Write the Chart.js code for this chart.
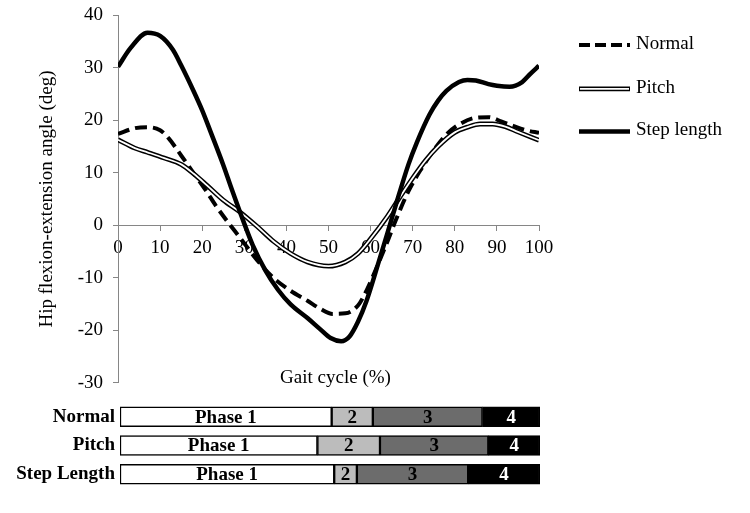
<!DOCTYPE html>
<html><head><meta charset="utf-8">
<script src="https://cdn.jsdelivr.net/npm/chart.js@4"></script>
<style>
html,body{margin:0;padding:0;background:#fff;}
#wrap{position:relative;width:750px;height:513px;background:#fff;overflow:hidden;}
#c1box{position:absolute;left:0;top:-6px;width:750px;height:410px;}
#c2box{position:absolute;left:0;top:386px;width:750px;height:119px;}
</style></head><body>
<div id="wrap"><div id="c1box"><canvas id="c1"></canvas></div><div id="c2box"><canvas id="c2"></canvas></div></div>
<script>
// ---- data ----
const seriesNames = ['Normal', 'Pitch', 'Step length'];

const normalX = [0,4,7,10,12,15,18,21,23,26,29,33,37,41,45,48,51,54,57,59,62,64,66,69,72,75,78,81,85,88,91,94,97,100];
const normalY = [17.4,18.5,18.7,18.1,16.6,13.3,9.9,6.5,4.0,0.7,-2.4,-6.6,-10.1,-12.5,-14.4,-15.9,-16.9,-16.8,-15.3,-12.5,-7.0,-3.1,1.0,6.5,10.7,14.3,17.3,19.2,20.5,20.6,19.8,18.9,18.1,17.6];

const pitchX = [0,4,7,11,15,18,21,25,29,33,37,41,45,50,54,57,60,64,67,70,73,76,80,83,86,89,92,95,100];
const pitchY = [16.3,14.7,13.9,12.8,11.6,9.8,7.7,4.8,2.5,-0.2,-3.1,-5.4,-7.0,-7.8,-7.0,-5.4,-2.6,1.7,5.4,9.0,12.3,15.0,17.7,18.7,19.3,19.3,18.8,17.8,16.2];

const stepX = [0,3,7,10,13,15,18,20,22,25,27,30,32,35,38,41,45,48,50.5,53,55,57,59,62,64,66,69,71,74,76,78,81,83,85,88,90,93,96,98,100];
const stepY = [30.2,33.8,36.7,36.1,33.5,30.5,25.5,21.9,17.8,11.5,6.9,0.3,-3.8,-8.6,-12.3,-15.1,-17.7,-19.8,-21.5,-22.1,-21.2,-18.4,-14.5,-6.8,-1.5,3.9,11.6,15.8,21.1,23.7,25.6,27.3,27.7,27.6,26.9,26.6,26.4,27.3,28.9,30.4];

const yRange = [-30, 40];
const xRange = [0, 100];
const tickStep = 10;
const yTitle = 'Hip flexion-extension angle (deg)';
const xTitle = 'Gait cycle (%)';

const phaseRows = ['Normal', 'Pitch', 'Step Length'];
const phaseLabels = ['Phase 1', '2', '3', '4'];
const phase1 = [50.4, 47.0, 51.0];
const phase2 = [9.8, 14.9, 5.4];
const phase3 = [26.1, 25.8, 26.5];
const phase4 = [13.7, 12.3, 17.1];

// ---- styles ----
const FONT = "'Liberation Serif', 'Times New Roman', serif";
Chart.defaults.font.family = FONT;
Chart.defaults.font.size = 19;
Chart.defaults.color = '#000';
const AXIS = '#868686';

function pts(xs, ys) { return xs.map((x, i) => ({ x: x, y: ys[i] })); }

const lineStyles = [
  { dash: [11, 5], width: 4 },
  { double: true, width: 4.8, inner: 1.8 },
  { dash: [], width: 4.5 }
];

const sideLegend = {
  id: 'sideLegend',
  afterDraw(chart) {
    const ctx = chart.ctx;
    const ca = chart.chartArea;
    const x0 = ca.right + 40, x1 = x0 + 51;
    const ys = [ca.top + 29.5, ca.top + 73.5, ca.top + 116];
    ctx.save();
    seriesNames.forEach((name, i) => {
      const s = lineStyles[i];
      const y = ys[i];
      ctx.lineCap = 'butt';
      ctx.strokeStyle = '#000';
      ctx.lineWidth = s.width;
      ctx.setLineDash(s.dash || []);
      ctx.beginPath(); ctx.moveTo(x0, y); ctx.lineTo(x1, y); ctx.stroke();
      if (s.double) {
        ctx.strokeStyle = '#fff';
        ctx.lineWidth = s.inner;
        ctx.beginPath(); ctx.moveTo(x0 + 1, y); ctx.lineTo(x1 - 1, y); ctx.stroke();
      }
      ctx.setLineDash([]);
      ctx.fillStyle = '#000';
      ctx.font = '19px ' + FONT;
      ctx.textBaseline = 'middle';
      ctx.textAlign = 'left';
      ctx.fillText(name, x1 + 6, y - 1);
    });
    // x-axis title
    ctx.textAlign = 'center';
    ctx.textBaseline = 'middle';
    ctx.fillText(xTitle, (ca.left + ca.right) / 2 + 7, ca.bottom - 5);
    ctx.restore();
  }
};

new Chart(document.getElementById('c1'), {
  type: 'line',
  data: {
    datasets: [
      { label: seriesNames[0], data: pts(normalX, normalY), borderColor: '#000', borderWidth: 4, borderDash: [12, 6], pointRadius: 0, fill: false, cubicInterpolationMode: 'monotone', order: 3 },
      { label: seriesNames[1], data: pts(pitchX, pitchY), borderColor: '#000', borderWidth: 4.8, pointRadius: 0, fill: false, cubicInterpolationMode: 'monotone', order: 2 },
      { label: seriesNames[1] + ' inner', data: pts(pitchX, pitchY), borderColor: '#fff', borderWidth: 1.8, pointRadius: 0, fill: false, cubicInterpolationMode: 'monotone', order: 1 },
      { label: seriesNames[2], data: pts(stepX, stepY), borderColor: '#000', borderWidth: 4.5, pointRadius: 0, fill: false, cubicInterpolationMode: 'monotone', order: 0 }
    ]
  },
  options: {
    responsive: true, maintainAspectRatio: false, devicePixelRatio: 1, animation: false,
    layout: { padding: { top: 0, right: 211, bottom: 0, left: 0 } },
    plugins: { legend: { display: false }, tooltip: { enabled: false } },
    scales: {
      x: {
        type: 'linear', min: xRange[0], max: xRange[1], position: { y: 0 },
        ticks: { stepSize: tickStep, padding: 6, color: '#000', font: { size: 19 }, maxRotation: 0 },
        grid: { drawOnChartArea: false, drawTicks: true, tickLength: 5, color: AXIS },
        border: { color: AXIS, width: 1 }
      },
      y: {
        type: 'linear', min: yRange[0], max: yRange[1], position: 'left',
        ticks: { stepSize: tickStep, padding: 10, color: '#000', font: { size: 19 } },
        grid: { drawOnChartArea: false, drawTicks: true, tickLength: 5, color: AXIS },
        border: { color: AXIS, width: 1 },
        title: { display: true, text: yTitle, color: '#000', font: { size: 19 }, padding: { top: 36, bottom: 0 } },
        afterFit(scale) { scale.width = 118; }
      }
    }
  },
  plugins: [sideLegend]
});

// ---- phase bars ----
const phaseColors = ['#ffffff', '#bcbcbc', '#6c6c6c', '#000000'];
const phaseTextColors = ['#000', '#000', '#000', '#fff'];
const phaseText = {
  id: 'phaseText',
  afterDatasetsDraw(chart) {
    const ctx = chart.ctx;
    ctx.save();
    ctx.font = 'bold 19px ' + FONT;
    ctx.textAlign = 'center';
    ctx.textBaseline = 'middle';
    chart.data.datasets.forEach((ds, di) => {
      const meta = chart.getDatasetMeta(di);
      meta.data.forEach(el => {
        const p = el.getProps(['x', 'y', 'base'], true);
        ctx.fillStyle = phaseTextColors[di];
        ctx.fillText(phaseLabels[di], (p.x + p.base) / 2, p.y + 1);
      });
    });
    ctx.restore();
  }
};

new Chart(document.getElementById('c2'), {
  type: 'bar',
  data: {
    labels: phaseRows,
    datasets: [phase1, phase2, phase3, phase4].map((d, i) => ({
      label: phaseLabels[i], data: d, backgroundColor: phaseColors[i],
      borderColor: '#000', borderWidth: 1.5, borderSkipped: false, barThickness: 20
    }))
  },
  options: {
    indexAxis: 'y',
    responsive: true, maintainAspectRatio: false, devicePixelRatio: 1, animation: false,
    layout: { padding: { top: 0, right: 210, bottom: 0, left: 0 } },
    plugins: { legend: { display: false }, tooltip: { enabled: false } },
    scales: {
      x: { stacked: true, min: 0, max: 100, display: false },
      y: {
        stacked: true,
        ticks: { padding: 5, color: '#000', font: { size: 19, weight: 'bold' } },
        grid: { display: false, drawTicks: false },
        border: { display: false },
        afterFit(scale) { scale.width = 120; }
      }
    }
  },
  plugins: [phaseText]
});
</script>
</body></html>
